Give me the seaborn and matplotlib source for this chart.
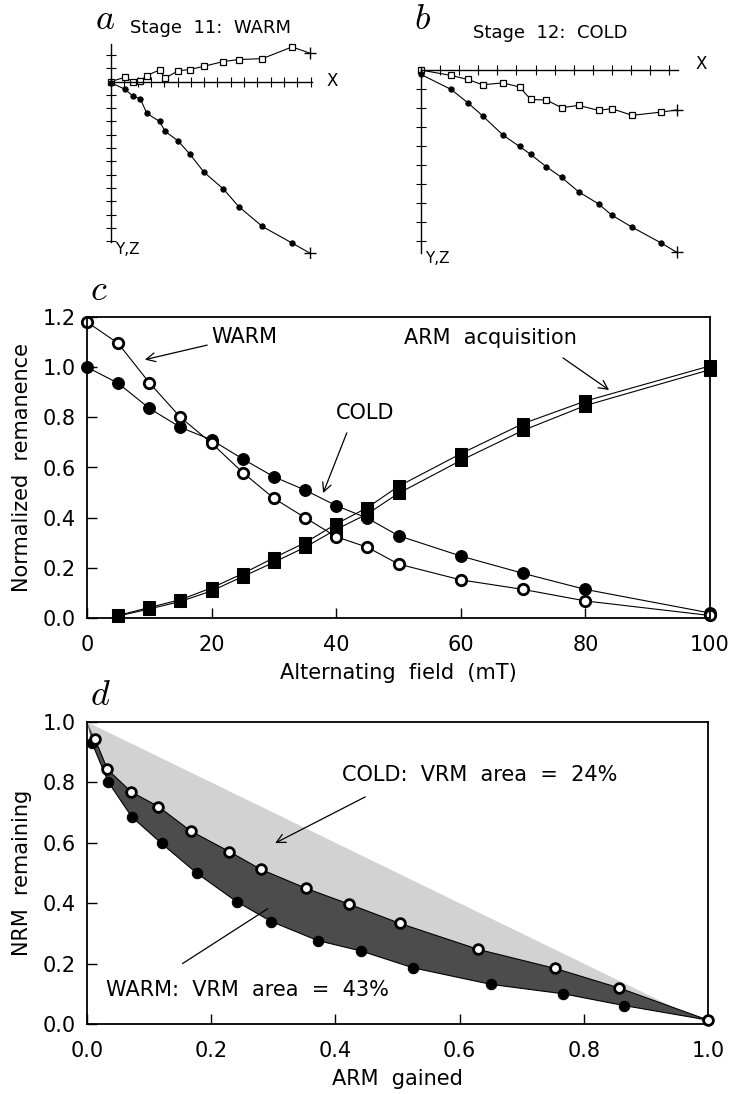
import numpy as np
import matplotlib
matplotlib.use("Agg")
import matplotlib.pyplot as plt
import seaborn as sns

# ---------------- data ----------------
# Panel a: Zijderveld plot, Stage 11 WARM (tick units)
a_east = [0, 1.05, 1.65, 2.2, 2.7, 3.65, 4.07, 5.03, 5.92, 7.0, 8.45, 9.6, 11.38, 13.62, 14.95]
a_horiz = [0, 0.32, 0, 0.05, 0.45, 0.87, 0.25, 0.8, 0.9, 1.15, 1.5, 1.65, 1.72, 2.6, 2.13]
a_vert = [-0.1, -0.58, -1.1, -1.3, -2.4, -3.0, -3.75, -4.45, -5.45, -6.83, -8.08, -9.4, -10.9, -12.15, -12.9]

# Panel b: Zijderveld plot, Stage 12 COLD (tick units)
b_east = [0, 1.57, 2.45, 3.23, 4.3, 5.16, 5.75, 6.57, 7.36, 8.25, 9.3, 9.98, 11.06, 12.57, 13.39]
b_horiz = [-0.03, -0.31, -0.52, -0.8, -0.7, -0.92, -1.57, -1.6, -2.0, -1.88, -2.14, -2.05, -2.4, -2.23, -2.12]
b_vert = [-0.26, -1.04, -1.74, -2.43, -3.44, -4.03, -4.45, -5.1, -5.65, -6.4, -7.04, -7.62, -8.26, -9.08, -9.57]

# Panel c: AF demagnetisation and ARM acquisition
af_field = [0, 5, 10, 15, 20, 25, 30, 35, 40, 45, 50, 60, 70, 80, 100]
warm_nrm = [1.18, 1.095, 0.938, 0.80, 0.697, 0.58, 0.477, 0.40, 0.324, 0.282, 0.215, 0.152, 0.114, 0.068, 0.01]
cold_nrm = [1.0, 0.936, 0.836, 0.76, 0.71, 0.634, 0.563, 0.51, 0.448, 0.398, 0.328, 0.247, 0.178, 0.114, 0.02]
arm_field = [5, 10, 15, 20, 25, 30, 35, 40, 45, 50, 60, 70, 80, 100]
arm_a = [0.01, 0.042, 0.073, 0.12, 0.177, 0.24, 0.30, 0.375, 0.44, 0.525, 0.655, 0.775, 0.865, 1.005]
arm_b = [0.008, 0.036, 0.066, 0.108, 0.165, 0.222, 0.282, 0.353, 0.415, 0.497, 0.628, 0.748, 0.847, 0.99]

# Panel d: NRM remaining vs ARM gained
cold_arm = [0.013, 0.033, 0.071, 0.115, 0.167, 0.229, 0.28, 0.353, 0.422, 0.504, 0.63, 0.754, 0.856, 1.0]
cold_rem = [0.943, 0.843, 0.769, 0.72, 0.639, 0.571, 0.512, 0.449, 0.397, 0.333, 0.247, 0.184, 0.12, 0.013]
warm_arm = [0.008, 0.034, 0.072, 0.12, 0.177, 0.241, 0.297, 0.372, 0.441, 0.525, 0.651, 0.767, 0.865, 1.0]
warm_rem = [0.931, 0.802, 0.686, 0.598, 0.499, 0.405, 0.339, 0.276, 0.242, 0.186, 0.131, 0.10, 0.061, 0.013]
diag_x = [0.0, 1.0]
diag_y = [1.0, 0.0]

c_xticks = [0, 20, 40, 60, 80, 100]
c_yticks = [0.0, 0.2, 0.4, 0.6, 0.8, 1.0, 1.2]
d_ticks = [0.0, 0.2, 0.4, 0.6, 0.8, 1.0]

# ---------------- style ----------------
sns.set_theme(style="white")
plt.rcParams["font.family"] = ["DejaVu Sans"]
plt.rcParams["mathtext.fontset"] = "cm"
plt.rcParams["text.color"] = "black"
plt.rcParams["axes.labelcolor"] = "black"
plt.rcParams["xtick.color"] = "black"
plt.rcParams["ytick.color"] = "black"

W, H = 732, 1094
fig = plt.figure(figsize=(W / 100, H / 100), dpi=100)


def px_axes(l, t, r, b):
    return fig.add_axes([l / W, 1 - b / H, (r - l) / W, (b - t) / H])


def ftext(px, py, s, **kw):
    fig.text(px / W, 1 - py / H, s, **kw)


LW = 0.8


def zijderveld(ax, east, horiz, vert, ox, oy, unit, box, xb, yb, nx, ny):
    l, t, r, b = box
    ax.set_xlim((l - ox) / unit, (r - ox) / unit)
    ax.set_ylim((oy - b) / unit, (oy - t) / unit)
    ax.set_facecolor("none")
    for s in ("top", "right"):
        ax.spines[s].set_visible(False)
    for s in ("left", "bottom"):
        ax.spines[s].set_position(("data", 0))
        ax.spines[s].set_color("black")
        ax.spines[s].set_linewidth(1.0)
    ax.spines["bottom"].set_bounds(*xb)
    ax.spines["left"].set_bounds(*yb)
    ax.set_xticks(nx)
    ax.set_yticks(ny)
    ax.tick_params(direction="inout", length=7, width=0.8, color="black",
                   bottom=True, left=True, labelbottom=False, labelleft=False)
    # horizontal projection: open squares
    sns.lineplot(x=east, y=horiz, ax=ax, sort=False, estimator=None, color="black", lw=LW,
                 marker="s", markersize=4.2, markerfacecolor="white",
                 markeredgecolor="black", markeredgewidth=0.9, markevery=slice(0, -1))
    # vertical projection: filled circles
    sns.lineplot(x=east, y=vert, ax=ax, sort=False, estimator=None, color="black", lw=LW,
                 marker="o", markersize=3.8, markerfacecolor="black",
                 markeredgecolor="black", markevery=slice(0, -1))
    ax.plot(east[-1:], horiz[-1:], marker="+", ms=8, mew=1.0, color="black", ls="none")
    ax.plot(east[-1:], vert[-1:], marker="+", ms=8, mew=1.0, color="black", ls="none")


# ---------------- panel a ----------------
axa = px_axes(100, 30, 345, 258)
zijderveld(axa, a_east, a_horiz, a_vert, 111, 81.5, 13.3, (100, 30, 345, 258),
           (0, 15.1), (-12.1, 2.85), np.arange(1, 16), [v for v in range(-12, 3) if v != 0])
axa.text(16.2, 0, "X", fontsize=12, ha="left", va="center")
axa.text(0.3, -12.65, "Y,Z", fontsize=11, ha="left", va="center")

# ---------------- panel b ----------------
axb = px_axes(410, 40, 722, 262)
zijderveld(axb, b_east, b_horiz, b_vert, 421, 69.5, 19.1, (410, 40, 722, 262),
           (0, 13.45), (-9.6, 0.15), np.arange(1, 14), [v for v in range(-9, 0)])
axb.text(14.35, 0.3, "X", fontsize=12, ha="left", va="center")
axb.text(0.2, -9.87, "Y,Z", fontsize=11, ha="left", va="center")

ftext(105, 19, r"$a$", fontsize=26, ha="center", va="center")
ftext(210, 28, "Stage  11:  WARM", fontsize=13, ha="center", va="center")
ftext(423, 19, r"$b$", fontsize=26, ha="center", va="center")
ftext(550, 33, "Stage  12:  COLD", fontsize=13, ha="center", va="center")

# ---------------- panel c ----------------
axc = px_axes(87, 317, 710, 618)
sns.lineplot(x=arm_field, y=arm_a, ax=axc, sort=False, estimator=None, color="black", lw=LW,
             marker="s", markersize=8, markerfacecolor="black", markeredgecolor="black", clip_on=False)
sns.lineplot(x=arm_field, y=arm_b, ax=axc, sort=False, estimator=None, color="black", lw=LW,
             marker="s", markersize=8, markerfacecolor="black", markeredgecolor="black", clip_on=False)
sns.lineplot(x=af_field, y=cold_nrm, ax=axc, sort=False, estimator=None, color="black", lw=LW,
             marker="o", markersize=8.5, markerfacecolor="black", markeredgecolor="black", clip_on=False)
sns.lineplot(x=af_field, y=warm_nrm, ax=axc, sort=False, estimator=None, color="black", lw=LW,
             marker="o", markersize=7.5, markerfacecolor="white", markeredgecolor="black",
             markeredgewidth=2.0, clip_on=False)
axc.set_xlim(0, 100)
axc.set_ylim(0, 1.2)
axc.set_xticks(c_xticks)
axc.set_yticks(c_yticks)
axc.set_xticklabels([f"{v:d}" for v in c_xticks])
axc.set_yticklabels([f"{v:.1f}" for v in c_yticks])
axc.set_xlabel("Alternating  field  (mT)", fontsize=15, labelpad=6)
axc.set_ylabel("Normalized  remanence", fontsize=15, labelpad=8)

arrow = dict(arrowstyle="->", lw=0.9, color="black", mutation_scale=16, shrinkA=0, shrinkB=0)
axc.annotate("", xy=(9.3, 1.03), xytext=(19.3, 1.088), arrowprops=arrow)
axc.text(25.2, 1.12, "WARM", fontsize=15, ha="center", va="center")
axc.annotate("", xy=(37.9, 0.498), xytext=(41.7, 0.738), arrowprops=arrow)
axc.text(44.6, 0.817, "COLD", fontsize=15, ha="center", va="center")
axc.annotate("", xy=(83.8, 0.909), xytext=(76.4, 1.037), arrowprops=arrow)
axc.text(64.7, 1.116, "ARM  acquisition", fontsize=15, ha="center", va="center")
ftext(99, 290, r"$c$", fontsize=26, ha="center", va="center")

# ---------------- panel d ----------------
axd = px_axes(87, 722, 708, 1024)
light_x = diag_x + cold_arm[::-1]
light_y = diag_y + cold_rem[::-1]
axd.fill(light_x, light_y, facecolor="#d2d2d2", edgecolor="none", zorder=1)
dark_x = diag_x[:1] + cold_arm + warm_arm[::-1]
dark_y = diag_y[:1] + cold_rem + warm_rem[::-1]
axd.fill(dark_x, dark_y, facecolor="#4c4c4c", edgecolor="none", zorder=1.5)
sns.lineplot(x=warm_arm, y=warm_rem, ax=axd, sort=False, estimator=None, color="black", lw=LW,
             marker="o", markersize=7.5, markerfacecolor="black", markeredgecolor="black",
             clip_on=False, zorder=3)
sns.lineplot(x=cold_arm, y=cold_rem, ax=axd, sort=False, estimator=None, color="black", lw=LW,
             marker="o", markersize=7, markerfacecolor="white", markeredgecolor="black",
             markeredgewidth=2.0, clip_on=False, zorder=3)
axd.set_xlim(0, 1)
axd.set_ylim(0, 1)
axd.set_xticks(d_ticks)
axd.set_yticks(d_ticks)
axd.set_xticklabels([f"{v:.1f}" for v in d_ticks])
axd.set_yticklabels([f"{v:.1f}" for v in d_ticks])
axd.set_xlabel("ARM  gained", fontsize=15, labelpad=6)
axd.set_ylabel("NRM  remaining", fontsize=15, labelpad=8)
axd.annotate("", xy=(0.303, 0.599), xytext=(0.448, 0.752), arrowprops=arrow)
axd.text(0.633, 0.825, "COLD:  VRM  area  =  24%", fontsize=15, ha="center", va="center")
axd.annotate("", xy=(0.295, 0.387), xytext=(0.15, 0.195), arrowprops=dict(arrowstyle="-", lw=0.9, color="black"))
axd.text(0.258, 0.113, "WARM:  VRM  area  =  43%", fontsize=15, ha="center", va="center")
ftext(100, 695, r"$d$", fontsize=26, ha="center", va="center")

for ax in (axc, axd):
    for s in ax.spines.values():
        s.set_color("black")
        s.set_linewidth(1.3)
    ax.tick_params(direction="in", length=7, width=1.0, color="black", labelsize=15,
                   labelcolor="black", bottom=True, left=True, top=False, right=False, pad=10)
    ax.tick_params(axis="x", pad=12)
    ax.tick_params(axis="y", pad=8)
    ax.grid(False)
    if ax.get_legend() is not None:
        ax.get_legend().remove()

fig.savefig("out.png", dpi=100)
